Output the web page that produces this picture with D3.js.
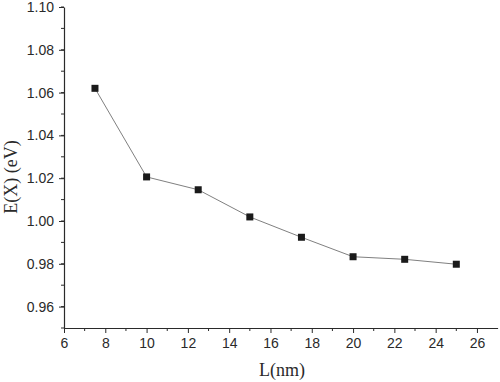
<!DOCTYPE html>
<html><head><meta charset="utf-8">
<script src="https://cdn.jsdelivr.net/npm/d3@7"></script>
<style>body{margin:0;background:#fff}svg{display:block}</style>
</head><body>
<script>
const lengths = [7.5, 10, 12.5, 15, 17.5, 20, 22.5, 25];
const energies = [1.062, 1.0206, 1.0146, 1.0019, 0.9924, 0.9833, 0.9821, 0.9798];
const xTicks = [6, 8, 10, 12, 14, 16, 18, 20, 22, 24, 26];
const yTicks = [0.96, 0.98, 1.00, 1.02, 1.04, 1.06, 1.08, 1.10];
const xLabel = "L(nm)";
const yLabel = "E(X) (eV)";

const W = 500, H = 382;
const svg = d3.select("body").append("svg").attr("width", W).attr("height", H);
const x = d3.scaleLinear().domain([6, 27]).range([64, 497.6]);
const y = d3.scaleLinear().domain([0.95, 1.10]).range([328, 7]);
const ink = "#2a2a2a";

// minor ticks
const xMinor = d3.range(7, 27, 2);
const yMinor = d3.range(0.95, 1.105, 0.01).map(v => +v.toFixed(2));
svg.append("g").selectAll("line").data(xMinor).join("line")
  .attr("x1", d => x(d)).attr("x2", d => x(d)).attr("y1", 328).attr("y2", 331)
  .attr("stroke", ink).attr("stroke-width", 1);
svg.append("g").selectAll("line").data(yMinor).join("line")
  .attr("x1", 61).attr("x2", 64).attr("y1", d => y(d)).attr("y2", d => y(d))
  .attr("stroke", ink).attr("stroke-width", 1);

const xAxis = svg.append("g").attr("transform", "translate(0,328)")
  .call(d3.axisBottom(x).tickValues(xTicks).tickFormat(d3.format("d")).tickSize(5).tickPadding(5).tickSizeOuter(0));
const yAxis = svg.append("g").attr("transform", "translate(64,0)")
  .call(d3.axisLeft(y).tickValues(yTicks).tickFormat(d3.format(".2f")).tickSize(5).tickPadding(5).tickSizeOuter(0));
[xAxis, yAxis].forEach(g => {
  g.select(".domain").attr("stroke", ink).attr("stroke-width", 1.2);
  g.selectAll(".tick line").attr("stroke", ink).attr("stroke-width", 1);
  g.selectAll("text").attr("fill", ink).style("font-family", "'Liberation Sans', Arial, sans-serif").style("font-size", "14px");
});

// line
svg.append("path").datum(lengths.map((l, i) => [l, energies[i]]))
  .attr("d", d3.line().x(d => x(d[0])).y(d => y(d[1])))
  .attr("fill", "none").attr("stroke", "#808080").attr("stroke-width", 1);

// markers
const s = 7;
svg.append("g").selectAll("rect").data(lengths.map((l, i) => [l, energies[i]])).join("rect")
  .attr("x", d => x(d[0]) - s / 2).attr("y", d => y(d[1]) - s / 2)
  .attr("width", s).attr("height", s).attr("fill", "#1a1a1a");

// labels
svg.append("text").attr("x", 282).attr("y", 376).attr("text-anchor", "middle")
  .attr("fill", ink).style("font-family", "'Liberation Serif', 'Times New Roman', serif").style("font-size", "18px")
  .text(xLabel);
svg.append("text").attr("transform", "translate(17,177) rotate(-90)").attr("text-anchor", "middle")
  .attr("fill", ink).style("font-family", "'Liberation Serif', 'Times New Roman', serif").style("font-size", "18px")
  .text(yLabel);
</script>
</body></html>
